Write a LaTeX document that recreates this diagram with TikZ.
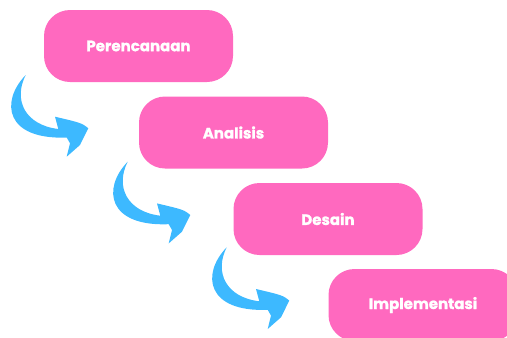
\documentclass[tikz,border=0pt]{standalone}
\usepackage{fontspec}
\setmainfont{Poppins}[BoldFeatures={FakeBold=1.2}]
\usetikzlibrary{positioning}

\definecolor{phasepink}{HTML}{FF69BF}
\definecolor{arrowblue}{HTML}{3DB9FF}

\tikzset{
phase/.style={rectangle, rounded corners=26pt, fill=phasepink, text=white,
  minimum width=189pt, minimum height=72pt, font=\bfseries\fontsize{15}{18}\selectfont},
curvearrow/.pic={
  \fill[arrowblue] (0,0) .. controls (-26,27) and (-20,65) .. (41,62.5)
    -- (44.3,68.3) -- (41,81.7) -- (54.3,70) -- (62.6,53.3)
    .. controls (56,48) .. (29.3,41.7) -- (32.6,54)
    .. controls (-0.7,50) and (-12.7,25) .. (0,0) -- cycle;
}
}

\begin{document}
\begin{tikzpicture}[x=1pt, y=-1pt]
\useasboundingbox (0,0) rectangle (507,338);
\clip (0,0) rectangle (507,338);
% phases
\node[phase] (plan) at (138.5,46) {Perencanaan};
\node[phase] (analisis) at (233.5,132.5) {Analisis};
\node[phase] (desain) at (328,219) {Desain};
\node[phase] (impl) at (423,305) {Implementasi};
% arrows between phases
\pic at (25.7,75) {curvearrow};
\pic at (127.7,161.7) {curvearrow};
\pic at (226.7,247.3) {curvearrow};
\end{tikzpicture}
\end{document}
